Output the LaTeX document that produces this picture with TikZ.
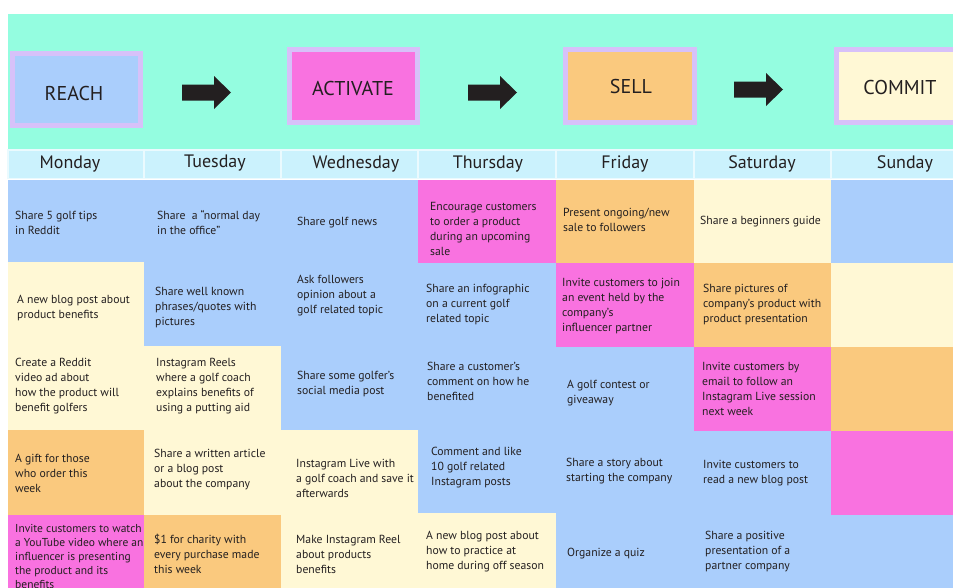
\documentclass[tikz,border=0pt]{standalone}
\usepackage{fontspec}
\setmainfont{PT Sans}
\definecolor{mint}{HTML}{94FDE0}
\definecolor{dayc}{HTML}{CBF2FD}
\definecolor{cblue}{HTML}{AACEFC}
\definecolor{cpink}{HTML}{F972E0}
\definecolor{corange}{HTML}{FAC97E}
\definecolor{ccream}{HTML}{FFF8D5}
\definecolor{lav}{HTML}{D7C1F9}
\definecolor{ink}{HTML}{231F20}
\tikzset{
  celltext/.style={anchor=west,align=left,inner sep=0pt,text=ink,font=\fontsize{11.7}{15}\selectfont},
  daytext/.style={inner sep=0pt,text=ink,font=\fontsize{18}{20}\selectfont},
  stagebox/.style={draw=lav,line width=5pt,inner sep=0pt},
  stagetext/.style={inner sep=0pt,text=ink,font=\fontsize{20}{22}\selectfont},
  daycell/.style={fill=dayc,draw=white!60!dayc,line width=1.5pt},
  blockarrow/.style={fill=ink,draw=none}
}
\newcommand{\cellfill}[5]{\fill[#5] (#1,#2) rectangle (#3,#4);}
\newcommand{\barrow}[2]{\fill[blockarrow] (#1,#2-8) -- (#1+32,#2-8) -- (#1+32,#2-16.5) -- (#1+49,#2) -- (#1+32,#2+16.5) -- (#1+32,#2+8) -- (#1,#2+8) -- cycle;}
\begin{document}
\begin{tikzpicture}[x=1pt,y=-1pt]
\useasboundingbox (0,0) rectangle (953,587);
\clip (0,0) rectangle (953,587);
\fill[white] (0,0) rectangle (953,587);
% mint band
\fill[mint] (8,14) rectangle (960,150);
% stage boxes
\node[stagebox,fill=cblue,minimum width=128pt,minimum height=72pt] (reach) at (76.5,89.5) {};
\node[stagebox,fill=cpink,minimum width=128pt,minimum height=73pt] (activate) at (353.5,86) {};
\node[stagebox,fill=corange,minimum width=129pt,minimum height=73pt] (sell) at (630,85.5) {};
\node[stagebox,fill=ccream,minimum width=130pt,minimum height=73pt,anchor=west] (commit) at (833.5,86) {};
\node[stagetext] (reachlbl) at (74,93) {REACH};
\node[stagetext] (activatelbl) at (353,88) {ACTIVATE};
\node[stagetext] (selllbl) at (631,86) {SELL};
\node[stagetext] (commitlbl) at (900,87.5) {COMMIT};
% arrows
\barrow{182}{92.5}
\barrow{468}{92.5}
\barrow{734}{89.5}
% day row
\foreach \xa/\xb in {8/144,144/281,281/418,418/556,556/694,694/831,831/969}{
  \draw[daycell] (\xa,150) rectangle (\xb,178.5);
}
\node[daytext] (mon) at (70,164) {Monday};
\node[daytext] (tue) at (215,163) {Tuesday};
\node[daytext] (wed) at (356,164) {Wednesday};
\node[daytext] (thu) at (488,164) {Thursday};
\node[daytext] (fri) at (625,164) {Friday};
\node[daytext] (sat) at (762,164) {Saturday};
\node[daytext] (sun) at (905,164) {Sunday};
% grid cells
% row 1
\cellfill{8}{180}{144}{262}{cblue}
\cellfill{144}{180}{281}{262}{cblue}
\cellfill{281}{180}{418}{262}{cblue}
\cellfill{418}{180}{556}{263}{cpink}
\cellfill{556}{180}{694}{263}{corange}
\cellfill{694}{180}{831}{263}{ccream}
\cellfill{831}{180}{969}{263}{cblue}
% row 2
\cellfill{8}{262}{144}{346}{ccream}
\cellfill{144}{262}{281}{346}{cblue}
\cellfill{281}{262}{418}{346}{cblue}
\cellfill{418}{263}{556}{346}{cblue}
\cellfill{556}{263}{694}{347}{cpink}
\cellfill{694}{263}{831}{347}{corange}
\cellfill{831}{263}{969}{347}{ccream}
% row 3
\cellfill{8}{346}{144}{430}{ccream}
\cellfill{144}{346}{281}{430}{ccream}
\cellfill{281}{346}{418}{430}{cblue}
\cellfill{418}{346}{556}{430}{cblue}
\cellfill{556}{347}{694}{430}{cblue}
\cellfill{694}{347}{831}{431}{cpink}
\cellfill{831}{347}{969}{431}{corange}
% row 4
\cellfill{8}{430}{144}{515}{corange}
\cellfill{144}{430}{281}{515}{ccream}
\cellfill{281}{430}{418}{515}{ccream}
\cellfill{418}{430}{556}{513}{cblue}
\cellfill{556}{430}{694}{513}{cblue}
\cellfill{694}{431}{831}{513}{cblue}
\cellfill{831}{431}{969}{515}{cpink}
% row 5
\cellfill{8}{515}{144}{600}{cpink}
\cellfill{144}{515}{281}{600}{corange}
\cellfill{281}{515}{418}{600}{ccream}
\cellfill{418}{513}{556}{600}{ccream}
\cellfill{556}{513}{694}{600}{cblue}
\cellfill{694}{513}{831}{600}{cblue}
\cellfill{831}{515}{969}{600}{cblue}
% texts row 1
\node[celltext] (t11) at (15,223) {Share 5 golf tips\\in Reddit};
\node[celltext] (t12) at (157,223) {Share\ \ a “normal day\\in the office”};
\node[celltext] (t13) at (297,223) {Share golf news};
\node[celltext] (t14) at (430,229) {Encourage customers\\to order a product\\during an upcoming\\sale};
\node[celltext] (t15) at (563,220) {Present ongoing/new\\sale to followers};
\node[celltext] (t16) at (700,222) {Share a beginners guide};
% row 2
\node[celltext] (t21) at (17,308) {A new blog post about\\product benefits};
\node[celltext] (t22) at (155,307) {Share well known\\phrases/quotes with\\pictures};
\node[celltext] (t23) at (297,296) {Ask followers\\opinion about a\\golf related topic};
\node[celltext] (t24) at (426,304) {Share an infographic\\on a current golf\\related topic};
\node[celltext] (t25) at (562,306) {Invite customers to join\\an event held by the\\company’s\\influencer partner};
\node[celltext] (t26) at (703,304) {Share pictures of\\company’s product with\\product presentation};
% row 3
\node[celltext] (t31) at (15,386) {Create a Reddit\\video ad about\\how the product will\\benefit golfers};
\node[celltext] (t32) at (156,386) {Instagram Reels\\where a golf coach\\explains benefits of\\using a putting aid};
\node[celltext] (t33) at (297,384) {Share some golfer’s\\social media post};
\node[celltext] (t34) at (427,381) {Share a customer’s\\comment on how he\\benefited};
\node[celltext] (t35) at (567,393) {A golf contest or\\giveaway};
\node[celltext] (t36) at (702,389) {Invite customers by\\email to follow an\\Instagram Live session\\next week};
% row 4
\node[celltext] (t41) at (15,473) {A gift for those\\who order this\\week};
\node[celltext] (t42) at (154,470) {Share a written article\\or a blog post\\about the company};
\node[celltext] (t43) at (296,478) {Instagram Live with\\a golf coach and save it\\afterwards};
\node[celltext] (t44) at (431,468) {Comment and like\\10 golf related\\Instagram posts};
\node[celltext] (t45) at (566,471) {Share a story about\\starting the company};
\node[celltext] (t46) at (703,473) {Invite customers to\\read a new blog post};
% row 5
\node[celltext,anchor=north west,font=\fontsize{11.5}{14}\selectfont] (t51) at (15,524) {Invite customers to watch\\a YouTube video where an\\influencer is presenting\\the product and its\\benefits};
\node[celltext] (t52) at (154,554) {\$1 for charity with\\every purchase made\\this week};
\node[celltext] (t53) at (296,554) {Make Instagram Reel\\about products\\benefits};
\node[celltext] (t54) at (426,552) {A new blog post about\\how to practice at\\home during off season};
\node[celltext] (t55) at (567,554) {Organize a quiz};
\node[celltext] (t56) at (705,552) {Share a positive\\presentation of a\\partner company};
\end{tikzpicture}
\end{document}
